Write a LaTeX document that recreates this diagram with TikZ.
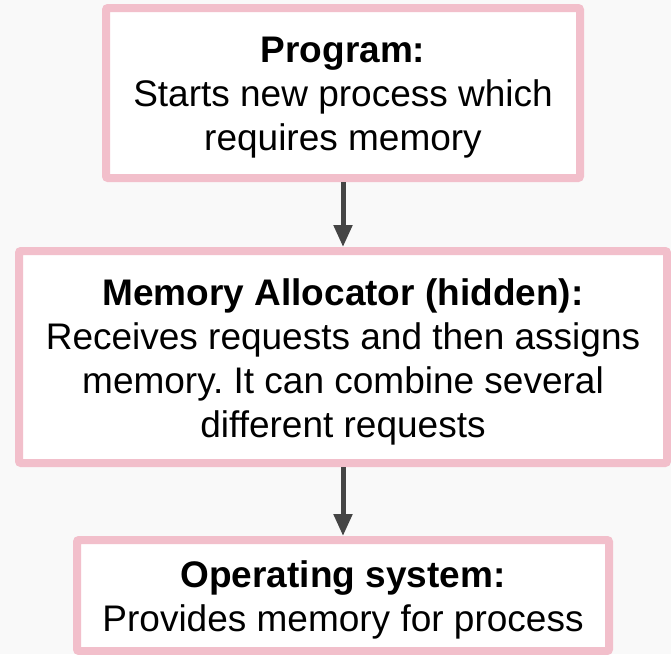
\documentclass[tikz,border=0pt]{standalone}
\usepackage{fontspec}
\setmainfont{Liberation Sans}
\usetikzlibrary{arrows.meta}
\definecolor{bgc}{HTML}{F9F9F9}
\definecolor{pinkb}{HTML}{F2BFCB}
\definecolor{arrowc}{HTML}{454545}
\tikzset{
  card/.style={draw=pinkb, line width=8pt, fill=white, rounded corners=2pt,
    inner sep=0pt},
  cardtext/.style={align=center, inner sep=0pt, yshift=-4.5pt,
    font=\fontsize{37}{44}\selectfont\frenchspacing},
  link/.style={draw=arrowc, line width=5pt, -{Triangle[width=18pt,length=22pt]}}
}
\begin{document}
\begin{tikzpicture}[x=1pt,y=1pt]
\fill[bgc] (0,0) rectangle (671,-654);
\useasboundingbox (0,0) rectangle (671,-654);
\node[card, minimum width=474pt, minimum height=170pt,
  label={[cardtext]center:\textbf{Program:}\\Starts new process which\\requires memory}] (prog) at (343,-93) {};
\node[card, minimum width=648pt, minimum height=212pt,
  label={[cardtext]center:\textbf{Memory Allocator (hidden):}\\Receives requests and then assigns\\memory. It can combine several\\different requests}] (alloc) at (343,-357) {};
\node[card, minimum width=532pt, minimum height=111pt,
  label={[cardtext]center:\textbf{Operating system:}\\Provides memory for process}] (os) at (343,-595.5) {};
\draw[link] (prog.south) -- (alloc.north);
\draw[link] (alloc.south) -- (os.north);
\end{tikzpicture}
\end{document}
